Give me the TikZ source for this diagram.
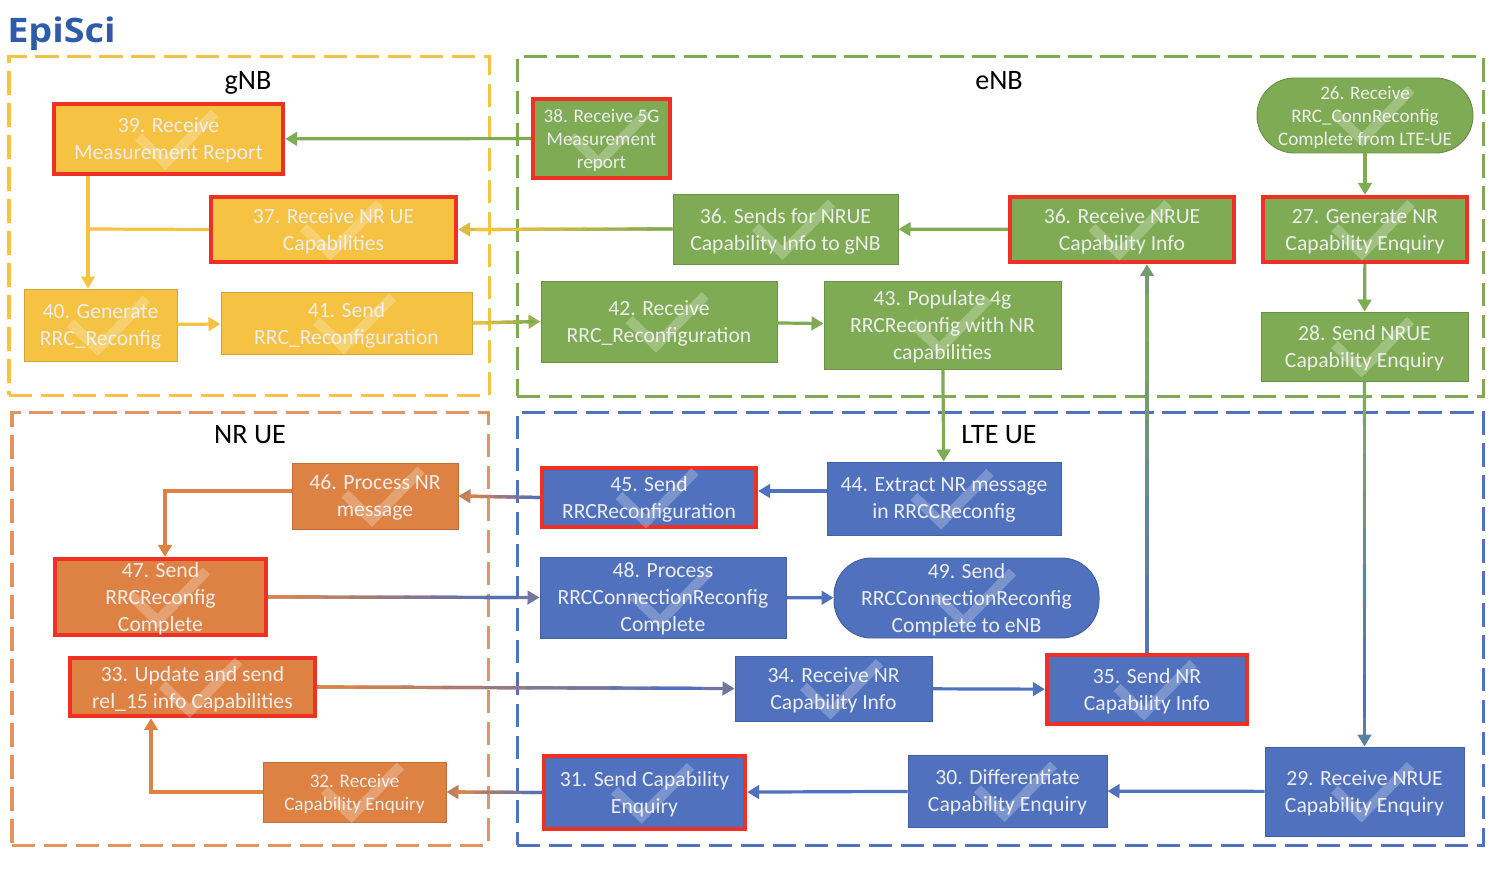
\documentclass[tikz,border=0pt]{standalone}
\usepackage{fontspec}
\setmainfont{Carlito}
\newfontfamily\logofont[FakeStretch=1.12]{Open Sans}
\usepackage{xcolor}
\usepackage{tikz}
\usetikzlibrary{arrows.meta,calc}

\definecolor{cyellow}{HTML}{F5C241}
\definecolor{cgreen}{HTML}{7FAB55}
\definecolor{cblue}{HTML}{4F71BE}
\definecolor{corange}{HTML}{DE8244}
\definecolor{cred}{HTML}{EE3124}
\definecolor{clogo}{HTML}{2F5CA8}

% arrow in a mixed colour, with the line running from one colour to the other
\newcommand{\fadearr}[4]{%
  \draw[arr,#4!75!#3] (#1) -- (#2);
  \foreach \k in {0,...,8} {
    \pgfmathtruncatemacro{\mixval}{\k*100/8}
    \draw[wire,#4!\mixval!#3] ($(#1)!\k/10!(#2)$) -- ($(#1)!\k/10+0.12!(#2)$);
  }
}

\begin{document}
\begin{tikzpicture}[
  x=0.025cm, y=-0.025cm,
  sz/.style 2 args={minimum width=#1*0.025cm, minimum height=#2*0.025cm},
  tick/.style={white, opacity=0.25, line width=0.25cm},
  box/.style={align=center, inner sep=0pt, text=white!93!black,
    font=\fontsize{15.4}{19.2}\selectfont, line width=0.7pt, text depth=0pt},
  small/.style={font=\fontsize{13.6}{16.4}\selectfont},
  ybox/.style={box, fill=cyellow, draw=cyellow!85!black},
  gbox/.style={box, fill=cgreen, draw=cgreen!85!black},
  bbox/.style={box, fill=cblue, draw=cblue!85!black},
  obox/.style={box, fill=corange, draw=corange!85!black},
  hot/.style={draw=cred, line width=0.11cm},
  pill/.style={rounded corners=0.94cm},
  region/.style={line width=0.075cm, dash pattern=on 0.58cm off 0.22cm, inner sep=0pt},
  title/.style={font=\fontsize{20}{22}\selectfont, text=black},
  wire/.style={line width=0.08cm},
  arr/.style={-{Triangle[length=0.3cm,width=0.34cm]}, line width=0.08cm}
]
\useasboundingbox (0,0) rectangle (1502,886);

\node[text=clogo, anchor=west, inner sep=0pt, font=\logofont\fontsize{24}{28}\selectfont\bfseries] at (7,34) (logo) {EpiSci};

% dashed areas
\node[region, draw=cyellow, sz={480}{338}] at (249,226) (gnb) {};
\node[region, draw=cgreen, sz={966}{339}] at (1000,226.5) (enb) {};
\node[region, draw=corange!85!white, sz={476}{433}] at (250,628.5) (nrue) {};
\node[region, draw=cblue, sz={966}{433}] at (1000,628.5) (lteue) {};
\node[title] at (248,83) (tgnb) {gNB};
\node[title] at (999,81) (tenb) {eNB};
\node[title] at (250,435) (tnrue) {NR UE};
\node[title] at (999,435) (tlteue) {LTE UE};

% gNB
\node[ybox, hot, sz={229}{70}] at (168.5,139) (n39) {39. Receive\\Measurement  Report};
\node[ybox, hot, sz={245}{65}] at (333.5,229.5) (n37) {37. Receive NR UE\\Capabilities};
\node[ybox, sz={153}{72}] at (100.5,325) (n40) {40. Generate\\RRC\_Reconfig};
\node[ybox, sz={251}{62}] at (346.5,323) (n41) {41. Send\\RRC\_Reconfiguration};

% eNB
\node[gbox, hot, small, sz={137}{79}] at (601.5,138.5) (n38) {38. Receive 5G\\Measurement\\report};
\node[gbox, small, pill, sz={216}{75}] at (1365,115.5) (n26) {26. Receive\\RRC\_ConnReconfig\\Complete from LTE-UE};
\node[gbox, sz={225}{70}] at (785.5,229) (n36a) {36. Sends for NRUE\\Capability  Info to gNB};
\node[gbox, hot, sz={224}{65}] at (1122,229.5) (n36b) {36. Receive NRUE\\Capability  Info};
\node[gbox, hot, sz={204}{65}] at (1365,229.5) (n27) {27. Generate NR\\Capability  Enquiry};
\node[gbox, sz={236}{81}] at (659,321.5) (n42) {42. Receive\\RRC\_Reconfiguration};
\node[gbox, sz={237}{88}] at (942.5,325) (n43) {43. Populate 4g\\RRCReconfig  with NR\\capabilities};
\node[gbox, sz={207}{69}] at (1364.5,346.5) (n28) {28. Send NRUE\\Capability  Enquiry};

% NR UE
\node[obox, sz={166}{66}] at (375,496) (n46) {46. Process NR\\message};
\node[obox, hot, sz={211}{76}] at (160.5,597) (n47) {47. Send\\RRCReconfig\\Complete};
\node[obox, hot, sz={245}{58}] at (192.5,687) (n33) {33. Update and send\\rel\_15 info Capabilities};
\node[obox, small, sz={183}{60}] at (354.5,792) (n32) {32. Receive\\Capability Enquiry};

% LTE UE
\node[bbox, hot, sz={214}{59}] at (649,497.5) (n45) {45. Send\\RRCReconfiguration};
\node[bbox, sz={234}{73}] at (944,498.5) (n44) {44. Extract NR message\\in RRCCReconfig};
\node[bbox, sz={246}{81}] at (663,597.5) (n48) {48. Process\\RRCConnectionReconfig\\Complete};
\node[bbox, pill, sz={265}{80}] at (966.5,598) (n49) {49. Send\\RRCConnectionReconfig\\Complete  to eNB};
\node[bbox, sz={197}{65}] at (833.5,688.5) (n34) {34. Receive NR\\Capability  Info};
\node[bbox, hot, sz={200}{69}] at (1147,689.5) (n35) {35. Send NR\\Capability  Info};
\node[bbox, hot, sz={201}{73}] at (644.5,792.5) (n31) {31. Send Capability\\Enquiry};
\node[bbox, sz={199}{72}] at (1007.5,791) (n30) {30. Differentiate\\Capability  Enquiry};
\node[bbox, sz={199}{89}] at (1364.5,791.5) (n29) {29. Receive NRUE\\Capability  Enquiry};

% faint tick over every box
\foreach \n in {n39,n37,n40,n41,n38,n26,n36a,n36b,n27,n42,n43,n28,n46,n47,n33,n32,n45,n44,n48,n49,n34,n35,n31,n30,n29}
  \draw[tick, shift={(\n.center)}] (-30,-2) -- (-3,24) -- (46,-26);

\coordinate (p40) at (88,229);
\coordinate (p44) at (800,491);
\coordinate (p46) at (165,491);
\coordinate (p33) at (151,792);

\draw[arr,cgreen] (n38) -- (n39);
\draw[arr,cyellow] (n39.south -| p40) -- (n40.north -| p40);
\draw[wire,cyellow] (n37.west) -- (p40);
\fadearr{n36a.west}{n37.east}{cgreen}{cyellow}
\draw[arr,cgreen] (n36b) -- (n36a);
\draw[arr,cyellow] (n40) -- (n41);
\fadearr{n41.east}{n42.west}{cyellow}{cgreen}
\draw[arr,cgreen] (n42) -- (n43);
\draw[arr,cgreen] (n26) -- (n27);
\draw[arr,cgreen] (n27) -- (n28);
\draw[arr,cgreen] (n43) -- (n44);
\fadearr{n28.south}{n29.north}{cgreen}{cblue}
\draw[arr,cblue] (n29) -- (n30);
\draw[arr,cblue] (n30) -- (n31);
\fadearr{n31.west}{n32.east}{cblue}{corange}
\draw[arr,corange] (n32.west) -- (p33) -- (p33 |- n33.south);
\fadearr{n33.east}{n34.west}{corange}{cblue}
\draw[arr,cblue] (n34) -- (n35);
\fadearr{n35.north}{n36b.south -| n35.north}{cblue}{cgreen}
\draw[arr,cblue] (n44.west |- p44) -- (n45.east |- p44);
\fadearr{n45.west}{n46.east}{cblue}{corange}
\draw[arr,corange] (n46.west |- p46) -- (p46) -- (p46 |- n47.north);
\fadearr{n47.east}{n48.west}{corange}{cblue}
\draw[arr,cblue] (n48) -- (n49);
\end{tikzpicture}
\end{document}
